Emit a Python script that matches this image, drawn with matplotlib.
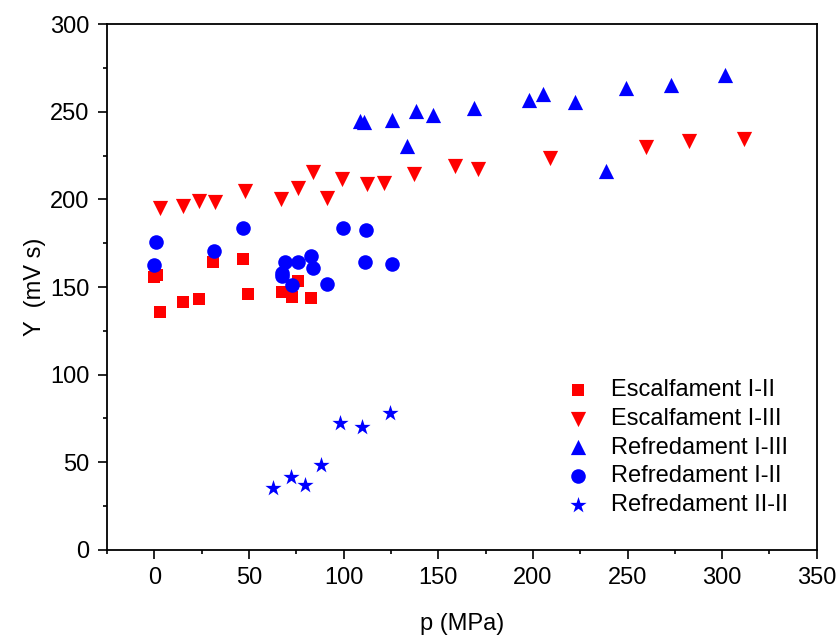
import matplotlib
matplotlib.use("Agg")
import matplotlib.pyplot as plt
from matplotlib.ticker import MultipleLocator

plt.rcParams['font.family'] = ['Liberation Sans', 'DejaVu Sans']

esc12_x = [0.0, 1.5, 3.2, 15.0, 23.8, 30.9, 46.7, 49.4, 67.2, 72.5, 76.0, 82.9]
esc12_y = [155.7, 157.0, 136.0, 141.6, 143.2, 164.5, 165.8, 146.0, 147.2, 144.5, 153.6, 143.6]

esc13_x = [3.2, 15.0, 23.8, 31.9, 48.0, 67.0, 76.0, 83.6, 91.4, 99.0, 112.4, 121.6,
           137.3, 158.9, 170.8, 209.2, 259.9, 282.5, 311.3]
esc13_y = [194.9, 196.4, 199.1, 198.5, 205.0, 200.1, 206.7, 215.6, 201.0, 211.8, 208.6, 209.5,
           214.7, 219.1, 217.6, 223.5, 229.7, 233.1, 234.2]

ref13_x = [108.7, 111.0, 125.6, 133.4, 138.5, 147.1, 168.9, 198.2, 205.1, 222.5, 238.5,
           249.4, 273.1, 301.7]
ref13_y = [244.6, 244.0, 245.5, 230.6, 250.7, 248.2, 251.9, 256.5, 260.3, 255.5, 216.0,
           263.8, 265.5, 270.8]

ref12_x = [-0.4, 1.1, 31.6, 46.7, 67.2, 67.6, 69.0, 72.5, 76.0, 82.9, 83.6, 91.4,
           99.7, 111.5, 111.7, 125.8]
ref12_y = [162.4, 175.5, 170.7, 183.5, 156.5, 158.2, 164.1, 151.0, 164.1, 167.9, 161.1, 151.6,
           183.9, 164.1, 182.4, 163.3]

ref22_x = [62.5, 72.3, 79.6, 87.9, 98.1, 109.6, 124.4]
ref22_y = [35.2, 41.8, 36.9, 48.3, 72.4, 70.2, 78.0]

labels = ['Escalfament I-II', 'Escalfament I-III', 'Refredament I-III',
          'Refredament I-II', 'Refredament II-II']

fig = plt.figure(figsize=(8.36, 6.35), dpi=100)
ax = fig.add_axes([0.128, 0.134, 0.849, 0.828])

ax.scatter(esc12_x, esc12_y, marker='s', s=85, color='#ff0000', linewidths=0, label=labels[0])
ax.scatter(esc13_x, esc13_y, marker='v', s=120, color='#ff0000', linewidths=0, label=labels[1])
ax.scatter(ref13_x, ref13_y, marker='^', s=120, color='#0000ff', linewidths=0, label=labels[2])
ax.scatter(ref12_x, ref12_y, marker='o', s=110, color='#0000ff', linewidths=0, label=labels[3])
ax.scatter(ref22_x, ref22_y, marker='*', s=150, color='#0000ff', linewidths=0, label=labels[4])

ax.set_xlim(-25, 350)
ax.set_ylim(0, 300)
ax.xaxis.set_major_locator(MultipleLocator(50))
ax.xaxis.set_minor_locator(MultipleLocator(25))
ax.yaxis.set_major_locator(MultipleLocator(50))
ax.yaxis.set_minor_locator(MultipleLocator(25))
ax.tick_params(which='major', direction='out', length=6.5, width=1.2, labelsize=17, pad=6)
ax.tick_params(which='minor', direction='out', length=3.2, width=1.2)
for sp in ax.spines.values():
    sp.set_linewidth(1.3)

ax.set_xlabel('p (MPa)', fontsize=17, labelpad=17)
ax.set_ylabel('Y  (mV s)', fontsize=17, labelpad=3)

ax.legend(loc='lower right', bbox_to_anchor=(0.986, 0.029), frameon=False, fontsize=17,
          labelspacing=0.28, handletextpad=0.6, handlelength=1.6, borderpad=0.3,
          scatterpoints=1)

fig.savefig('out.png', dpi=100)
